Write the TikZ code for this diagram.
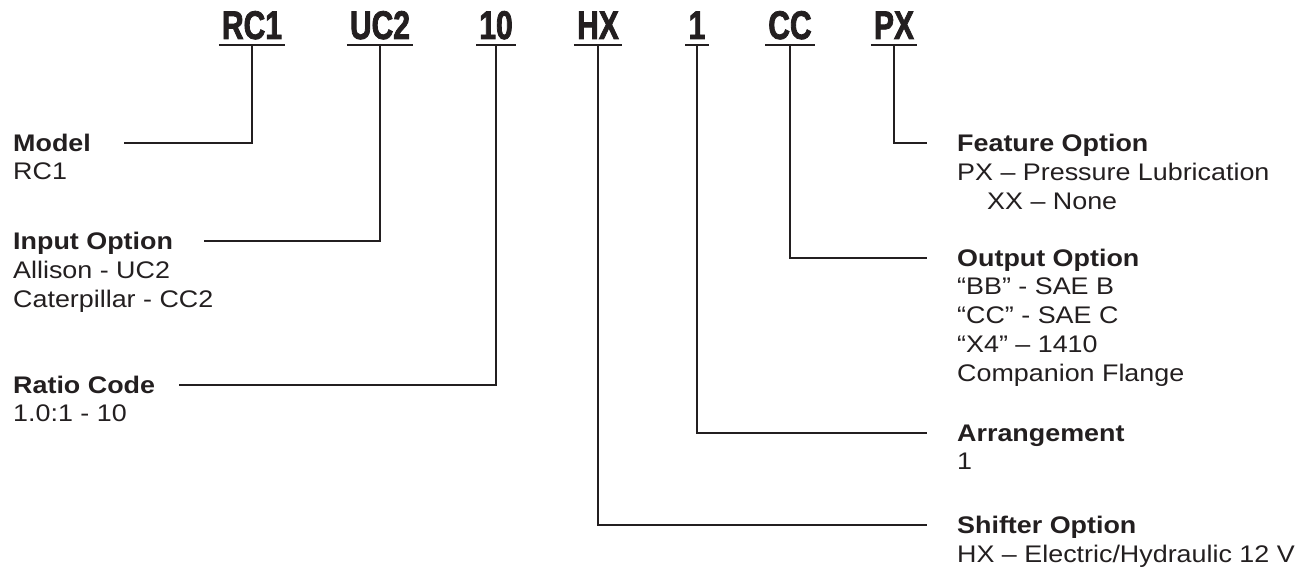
\documentclass[tikz,border=0pt]{standalone}
\usepackage{fontspec}
\setmainfont[FakeStretch=1.12]{Liberation Sans}
\newfontfamily\codefont[FakeStretch=0.75, FakeBold=2]{Liberation Sans Bold}
\usetikzlibrary{positioning}
\definecolor{ink}{HTML}{231F20}

\begin{document}
\begin{tikzpicture}[
        x=1pt, y=-1pt,
        code/.style={font=\codefont\fontsize{40}{40}\selectfont, text=ink, anchor=base, inner xsep=3pt, inner ysep=6pt, text depth=0pt},
        head/.style={font=\fontsize{24}{29}\selectfont\bfseries, text=ink, inner sep=0pt, text height=17.5pt, text depth=0pt},
        body/.style={font=\fontsize{24}{29}\selectfont, text=ink, inner sep=0pt, align=left},
        lead/.style={draw=ink, line width=2pt}
    ]
        \useasboundingbox (0,0) rectangle (1303,569);

        % Code letters
        \node[code] (rc1) at (252,39) {RC1};
        \node[code] (uc2) at (380,39) {UC2};
        \node[code] (ten) at (496,39) {10};
        \node[code] (hx) at (598,39) {HX};
        \node[code] (one) at (697,39) {1};
        \node[code] (cc) at (790,39) {CC};
        \node[code] (px) at (894,39) {PX};

        % Left options
        \node[head, anchor=west] (model) at (13,143) {Model};
        \node[body, below=11pt of model.south west, anchor=north west] (modeltext) {RC1};
        \node[head, anchor=west] (input) at (13,241) {Input Option};
        \node[body, below=11pt of input.south west, anchor=north west] (inputtext) {Allison - UC2\\Caterpillar - CC2};
        \node[head, anchor=west] (ratio) at (13,385) {Ratio Code};
        \node[body, below=11pt of ratio.south west, anchor=north west] (ratiotext) {1.0:1 - 10};

        % Right options
        \node[head, anchor=west] (feature) at (957,143) {Feature Option};
        \node[body, below=11pt of feature.south west, anchor=north west] (featuretext) {PX – Pressure Lubrication\\\hspace*{30pt}XX – None};
        \node[head, anchor=west] (output) at (957,258) {Output Option};
        \node[body, below=11pt of output.south west, anchor=north west] (outputtext) {“BB” - SAE B\\“CC” - SAE C\\“X4” – 1410\\Companion Flange};
        \node[head, anchor=west] (arrange) at (957,433) {Arrangement};
        \node[body, below=11pt of arrange.south west, anchor=north west] (arrangetext) {1};
        \node[head, anchor=west] (shifter) at (957,525) {Shifter Option};
        \node[body, below=11pt of shifter.south west, anchor=north west] (shiftertext) {HX – Electric/Hydraulic 12 V};

        % Underlines
        \draw[lead] (rc1.south west) -- (rc1.south east);
        \draw[lead] (uc2.south west) -- (uc2.south east);
        \draw[lead] (ten.south west) -- (ten.south east);
        \draw[lead] (hx.south west) -- (hx.south east);
        \draw[lead] (one.south west) -- (one.south east);
        \draw[lead] (cc.south west) -- (cc.south east);
        \draw[lead] (px.south west) -- (px.south east);

        % Leaders
        \draw[lead] (rc1.south) |- ([xshift=33pt]model.east);
        \draw[lead] (uc2.south) |- ([xshift=31pt]input.east);
        \draw[lead] (ten.south) |- ([xshift=24pt]ratio.east);
        \draw[lead] (hx.south) |- ([xshift=-30pt]shifter.west);
        \draw[lead] (one.south) |- ([xshift=-30pt]arrange.west);
        \draw[lead] (cc.south) |- ([xshift=-30pt]output.west);
        \draw[lead] (px.south) |- ([xshift=-30pt]feature.west);
    \end{tikzpicture}
\end{document}
